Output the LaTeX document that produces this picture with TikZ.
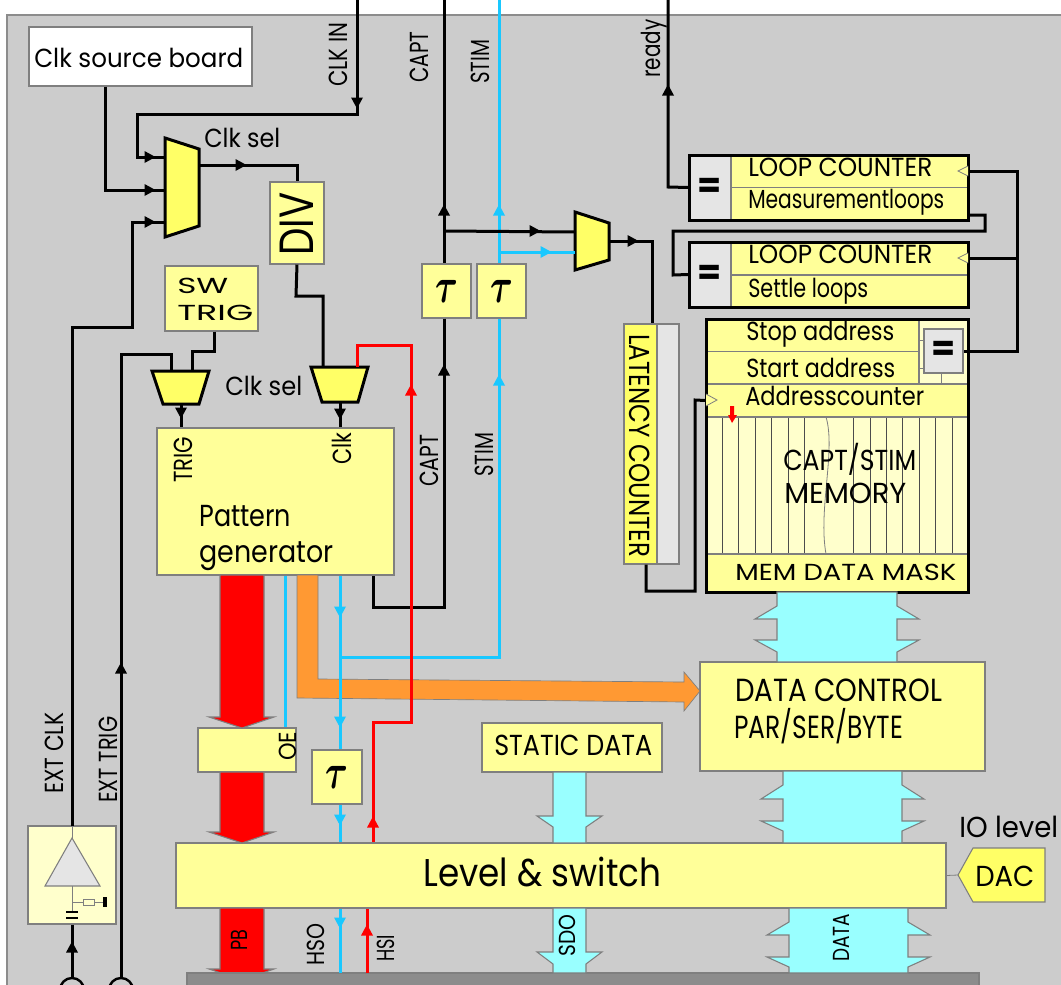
\documentclass[tikz,border=0pt]{standalone}
\usepackage{graphicx}
\usepackage{fontspec}
\setmainfont{Poppins}
\definecolor{panelgray}{HTML}{CCCCCC}
\definecolor{edgegray}{HTML}{7F7F7F}
\definecolor{blockgray}{HTML}{8C8C8C}
\definecolor{keygray}{HTML}{E5E5E5}
\definecolor{lightyel}{HTML}{FFFF99}
\definecolor{midyel}{HTML}{FFFF66}
\definecolor{paleyel}{HTML}{FFFFCC}
\definecolor{sigcyan}{HTML}{19C8FF}
\definecolor{buscyan}{HTML}{99FFFF}
\definecolor{sigorange}{HTML}{FF9933}
\newcommand{\tx}[3]{\fontsize{#1}{#1}\selectfont\resizebox{0.75\dimexpr#2pt\relax}{\height}{#3}}
\newcommand{\tip}[4]{\fill[#4,shift={(#1,#2)},rotate=#3] (5.5,0) -- (-5.5,6) -- (-5.5,-6) -- cycle;}
\newcommand{\tausym}{\scalebox{1.05}[1.5]{$\tau$}}
\tikzset{
    sz/.style 2 args={minimum width=0.75*#1 pt,minimum height=0.75*#2 pt},
    box/.style={draw=edgegray,fill=lightyel,line width=0.8pt,inner sep=0pt},
    frame/.style={draw=black,line width=2.25pt,inner sep=0pt},
    lbl/.style={inner sep=0pt,anchor=base west},
    up/.style={lbl,rotate=90},
    mux/.style={draw=black,fill=midyel,line width=2.25pt,line join=miter},
    sig/.style={line width=2.25pt,black},
    cyansig/.style={line width=2.25pt,sigcyan},
    redsig/.style={line width=2.25pt,red},
    bus/.style={draw=edgegray,fill=buscyan,line width=0.8pt},
    pwr/.style={draw=edgegray,fill=red,line width=0.8pt},
    clktri/.style={draw=edgegray,fill=lightyel,line width=0.6pt},
    taubox/.style={box,font=\fontsize{44}{44}\selectfont\boldmath},
}
\begin{document}
\begin{tikzpicture}[x=0.75pt,y=-0.75pt]
    \clip (0,0) rectangle (1061,985);
    % Panel
    \draw[draw=gray!90,fill=panelgray,line width=1.2pt] (7,15) rectangle (1080,1000);

    % Clock and trigger selection
    \node (clksrc) [box,fill=white,sz={223}{59}] at (140.5,56.5) {};
    \node (divbox) [box,sz={54}{82}] at (297,223) {};
    \node (swtrig) [box,sz={93}{65}] at (211.5,298.5) {};
    \draw[mux] (165,138) -- (199,149) -- (199,226) -- (165,237) -- cycle;
    \draw[mux] (152,371) -- (209,371) -- (199,404) -- (163,404) -- cycle;
    \draw[mux] (311,367) -- (368,367) -- (358,402) -- (322,402) -- cycle;
    \coordinate (muxclka) at (165,157);
    \coordinate (muxclkb) at (165,190);
    \coordinate (muxclkc) at (165,222);
    \coordinate (muxclko) at (199,165);
    \coordinate (muxtriga) at (171,371);
    \coordinate (muxtrigb) at (192,371);
    \coordinate (muxtrigo) at (181,404);
    \coordinate (muxpata) at (323,367);
    \coordinate (muxpatb) at (357,367);
    \coordinate (muxpato) at (340,402);

    % Pattern generator and its outputs
    \node (patgen) [box,sz={237}{147}] at (275.5,501.5) {};
    \node (oebox) [box,sz={98}{44}] at (247,750) {};
    \node (taulow) [taubox,sz={50}{54}] at (337,777) {\tausym};
    \node (level) [box,sz={770}{65}] at (561,875.5) {};
    \node (staticbox) [box,sz={180}{49}] at (572,747.5) {};
    \node (dctrl) [box,sz={285}{109}] at (842.5,716.5) {};

    % Delay elements
    \node (taucapt) [taubox,sz={49}{54}] at (446.5,291) {\tausym};
    \node (taustim) [taubox,sz={49}{54}] at (501.5,291) {\tausym};
    \draw[mux] (575,212) -- (609,223) -- (609,260) -- (575,270) -- cycle;
    \coordinate (muxouta) at (575,232);
    \coordinate (muxoutb) at (575,252);
    \coordinate (muxouto) at (609,241);

    % Loop counters
    \node (cntaeq) [box,fill=keygray,sz={42}{65},font=\fontsize{26}{26}\selectfont\bfseries] at (710,187.5) {=};
    \node (cntahi) [box,sz={237}{33}] at (849.5,171) {};
    \node (cntalo) [box,sz={237}{33}] at (849.5,204) {};
    \node (cntaframe) [frame,sz={279}{65}] at (828.5,187.5) {};
    \node (cntbeq) [box,fill=keygray,sz={42}{65},font=\fontsize{26}{26}\selectfont\bfseries] at (710,274.5) {=};
    \node (cntbhi) [box,sz={237}{33}] at (849.5,258.5) {};
    \node (cntblo) [box,sz={237}{32}] at (849.5,291) {};
    \node (cntbframe) [frame,sz={279}{65}] at (828.5,274.5) {};
    \draw[clktri] (968,166) -- (958,171) -- (968,176);
    \draw[clktri] (968,253) -- (958,258) -- (968,263);

    % Memory
    \node (memcells) [box,fill=paleyel,sz={262}{137}] at (837,485.5) {};
    \foreach \n in {0,...,14} {
        \ifnum\n=6 \else\ifnum\n=7 \else
        \draw[line width=0.7pt,black!70] ({722.5+16.4*\n},417) -- ({722.5+16.4*\n},554);
        \fi\fi
    }
    \draw[line width=0.6pt,edgegray] (826,417) .. controls (836,450) and (818,510) .. (826,554);
    \node (stopaddr) [box,sz={213}{33}] at (812.5,335.5) {};
    \node (startaddr) [box,sz={213}{33}] at (812.5,368) {};
    \node (eqcell) [box,fill=paleyel,sz={49}{65}] at (943.5,351.5) {};
    \node (addrcnt) [box,sz={262}{33}] at (837,400.5) {};
    \node (memmask) [box,sz={262}{38}] at (837,573) {};
    \draw[line width=0.6pt,edgegray] (919,340) -- (924,340) (919,368) -- (924,368) (941,373) -- (941,384);
    \node (memeq) [box,fill=keygray,sz={39}{44},font=\fontsize{26}{26}\selectfont\bfseries] at (943.5,351) {=};
    \node (memframe) [frame,sz={262}{273}] at (837,455.5) {};
    \draw[clktri] (706,394) -- (717,400) -- (706,406);
    \fill[red] (730,406) -- (734,406) -- (734,415) -- (737,415) -- (732,423) -- (728,415) -- (730,415) -- cycle;

    % Latency counter
    \node (latgray) [box,fill=keygray,sz={22}{240}] at (668,444) {};
    \node (latency) [box,fill=midyel,sz={33}{240}] at (640.5,444) {};

    % Input buffer
    \node (ampbox) [box,fill=paleyel,sz={88}{98}] at (72,875) {};
    \draw[box,fill=keygray] (72,838) -- (100,886) -- (45,886) -- cycle;
    \draw[line width=0.6pt,edgegray] (72,826) -- (72,838) (72,886) -- (72,912) (72,902) -- (83,902) (94,902) -- (105,902);
    \draw[line width=0.6pt,edgegray,fill=paleyel] (83,899) rectangle (94,905);
    \draw[line width=2pt] (66,912) -- (78,912) (66,918) -- (78,918);
    \draw[line width=2.6pt] (105,897) -- (105,907);
    \coordinate (clkpad) at (72,978);
    \coordinate (trigpad) at (121,978);
    \draw[line width=1.8pt,black] (72,990) circle (12);
    \draw[line width=1.8pt,black] (121,990) circle (12);

    % Orange control bus
    \draw[draw=edgegray,fill=sigorange,line width=0.5pt] (297,575) -- (318,575) -- (318,679) -- (684,682) -- (684,672) -- (700,691) -- (684,711) -- (684,702) -- (297,698) -- cycle;

    % Red output bus
    \draw[pwr] (220,575) -- (264,575) -- (264,717) -- (274,717) -- (242,728) -- (209,717) -- (220,717) -- cycle;
    \draw[pwr] (220,772) -- (264,772) -- (264,832) -- (274,832) -- (242,843) -- (209,832) -- (220,832) -- cycle;
    \draw[pwr] (220,908) -- (264,908) -- (264,969) -- (274,969) -- (242,980) -- (209,969) -- (220,969) -- cycle;
    \draw[draw=edgegray,fill=blockgray,line width=0.8pt] (187,973) rectangle (979,990);

    % Cyan data buses
    \draw[bus] (777,592) -- (777,606) -- (755,619) -- (777,619) -- (777,640) -- (755,640) -- (777,652) -- (777,662)
        -- (897,662) -- (897,652) -- (919,640) -- (897,640) -- (897,619) -- (919,619) -- (897,606) -- (897,592) -- cycle;
    \draw[bus] (783,771) -- (783,785) -- (761,799) -- (783,799) -- (783,821) -- (761,821) -- (783,831) -- (783,843)
        -- (902,843) -- (902,831) -- (924,821) -- (902,821) -- (902,799) -- (924,799) -- (902,785) -- (902,771) -- cycle;
    \draw[bus] (789,908) -- (789,922) -- (767,935) -- (789,935) -- (789,957) -- (767,957) -- (789,967) -- (789,973)
        -- (908,973) -- (908,967) -- (930,957) -- (908,957) -- (908,935) -- (930,935) -- (908,922) -- (908,908) -- cycle;
    \draw[bus] (553,772) -- (553,816) -- (537,816) -- (553,827) -- (553,843) -- (586,843) -- (586,827) -- (602,816) -- (586,816) -- (586,772) -- cycle;
    \draw[bus] (553,908) -- (553,952) -- (537,952) -- (553,964) -- (553,973) -- (586,973) -- (586,964) -- (602,952) -- (586,952) -- (586,908) -- cycle;

    % Clock wiring
    \coordinate (clkintop) at (357,0);
    \coordinate (captop) at (444,0);
    \coordinate (stimtop) at (499,0);
    \coordinate (readytop) at (668,0);
    \draw[sig] (clkintop) -- (357,114) -- (137,114) -- (137,157) -- (muxclka);
    \draw[sig] (clksrc.south -| 105,0) |- (muxclkb);
    \draw[sig] (muxclko) -| (divbox.north);
    \draw[sig] (divbox.south) -- (296,296) -- (323,296) -- (muxpata);
    \draw[sig] (72,826) -- (72,327) -- (132,327) -- (132,222) -- (muxclkc);
    \draw[sig] (ampbox.south) -- (clkpad);
    \draw[sig] (trigpad) -- (121,354) -- (171,354) -- (muxtriga);
    \draw[sig] (swtrig.south -| 214,0) -- (214,351) -- (192,351) -- (muxtrigb);
    \draw[sig] (muxtrigo) -- (patgen.north -| 181,0);
    \draw[sig] (muxpato) -- (patgen.north -| 340,0);
    \tip{150}{157}{0}{black}
    \tip{150}{190}{0}{black}
    \tip{150}{222}{0}{black}
    \tip{241}{165}{0}{black}
    \tip{357}{103}{-90}{black}
    \tip{181}{413}{-90}{black}
    \tip{340}{414}{-90}{black}
    \tip{72}{947}{90}{black}
    \tip{121}{668}{90}{black}

    % Capture and stimulus wiring
    \draw[cyansig] (stimtop) -- (taustim.north -| 499,0);
    \draw[cyansig] (taustim.south -| 499,0) -- (499,657) -- (341,657);
    \draw[cyansig] (499,252) -- (muxoutb);
    \draw[sig] (captop) -- (taucapt.north -| 444,0);
    \draw[sig] (taucapt.south -| 444,0) -- (444,607) -- (373,607) -- (patgen.south -| 373,0);
    \draw[sig] (444,231) -- (muxouta);
    \draw[sig] (muxouto) -| (latency.north -| 652,0);
    \draw[sig] (latency.south -| 646,0) -- (646,591) -- (695,591) -- (695,400) -- (addrcnt.west);
    \tip{444}{210}{90}{black}
    \tip{444}{370}{90}{black}
    \tip{535}{231}{0}{black}
    \tip{633}{241}{0}{black}
    \tip{499}{210}{90}{sigcyan}
    \tip{499}{380}{90}{sigcyan}
    \tip{546}{252}{0}{sigcyan}

    % Pattern outputs
    \draw[cyansig] (patgen.south -| 285,0) -- (oebox.north -| 285,0);
    \draw[cyansig] (patgen.south -| 340,0) -- (taulow.north -| 340,0);
    \draw[cyansig] (taulow.south -| 340,0) -- (level.north -| 340,0);
    \draw[cyansig] (level.south -| 340,0) -- (340,973);
    \draw[redsig] (muxpatb) -- (357,345) -- (411,345) -- (411,722) -- (373,722) -- (level.north -| 373,0);
    \draw[redsig] (367,973) -- (level.south -| 367,0);
    \tip{411}{390}{90}{red}
    \tip{373}{822}{90}{red}
    \tip{367}{930}{90}{red}
    \tip{340}{612}{-90}{sigcyan}
    \tip{340}{722}{-90}{sigcyan}
    \tip{340}{820}{-90}{sigcyan}
    \tip{340}{923}{-90}{sigcyan}

    % Loop counter wiring
    \draw[sig] (readytop) -- (668,187) -- (cntaeq.west);
    \tip{668}{90}{90}{black}
    \draw[sig] (cntaframe.east |- 0,215) -- (985,215) -- (985,231) -- (673,231) -- (673,275) -- (cntbeq.west);
    \draw[sig] (cntaframe.east |- 0,171) -- (1017,171) -- (1017,351) -- (memeq.east);
    \draw[sig] (cntbframe.east |- 0,258) -- (1017,258);

    % DAC
    \draw[box,fill=midyel] (958,875) -- (973,848) -- (1045,848) -- (1045,902) -- (973,902) -- cycle;
    \coordinate (dactip) at (958,875);
    \draw[line width=0.6pt,edgegray] (level.east) -- (dactip);

    % Labels
    \node (tclk) [lbl] at (34,67) {\tx{19.6}{209}{Clk source board}};
    \node (tsela) [lbl] at (204,147) {\tx{19.6}{76}{Clk sel}};
    \node (tselb) [lbl] at (225,395) {\tx{19.6}{77}{Clk sel}};
    \node (tsw) [lbl] at (177,293) {\tx{16.3}{51}{SW}};
    \node (ttrg) [lbl] at (177,320) {\tx{16.3}{76}{TRIG}};
    \node (tdiv) [up] at (313,256) {\tx{36}{63}{DIV}};
    \node (tclkin) [up] at (347,87) {\tx{19.6}{64}{CLK IN}};
    \node (tcapa) [up] at (428,83) {\tx{19.6}{51}{CAPT}};
    \node (tstima) [up] at (489,84) {\tx{19.6}{44}{STIM}};
    \node (tready) [up] at (660,78) {\tx{19.6}{58}{ready}};
    \node (tcapb) [up] at (438,487) {\tx{19.6}{52}{CAPT}};
    \node (tstimb) [up] at (493,477) {\tx{19.6}{44}{STIM}};
    \node (ttrgb) [up] at (192,483) {\tx{19.6}{46}{TRIG}};
    \node (tclkb) [up] at (351,465) {\tx{19.6}{32}{Clk}};
    \node (tpata) [lbl] at (199,526) {\tx{22.8}{92}{Pattern}};
    \node (tpatb) [lbl] at (199,562) {\tx{22.8}{134}{generator}};
    \node (toe) [up] at (296,761) {\tx{18.5}{29}{OE}};
    \node (textclk) [up] at (63,794) {\tx{19.6}{81}{EXT CLK}};
    \node (texttrg) [up] at (117,803) {\tx{19.6}{86}{EXT TRIG}};
    \node (tpb) [up] at (247,951) {\tx{17.4}{21}{PB}};
    \node (thso) [up] at (324,966) {\tx{18.5}{42}{HSO}};
    \node (thsi) [up] at (394,962) {\tx{18.5}{27}{HSI}};
    \node (tsdo) [up] at (575,957) {\tx{17.4}{42}{SDO}};
    \node (tdata) [up] at (849,962) {\tx{17.4}{48}{DATA}};
    \node (tlevel) [lbl] at (423,886) {\tx{29}{238}{Level \& switch}};
    \node (tstatic) [lbl] at (494,755) {\tx{21.7}{158}{STATIC DATA}};
    \node (tdca) [lbl] at (735,701) {\tx{24}{207}{DATA CONTROL}};
    \node (tdcb) [lbl] at (734,738) {\tx{24}{169}{PAR/SER/BYTE}};
    \node (tio) [lbl] at (959,837) {\tx{21.7}{99}{IO level}};
    \node (tdac) [lbl] at (975,886) {\tx{21.7}{59}{DAC}};
    \node (tcnta) [lbl] at (748,176) {\tx{19.6}{184}{LOOP COUNTER}};
    \node (tmeas) [lbl] at (748,208) {\tx{19.6}{196}{Measurementloops}};
    \node (tcntb) [lbl] at (748,263) {\tx{19.6}{184}{LOOP COUNTER}};
    \node (tsettle) [lbl] at (748,297) {\tx{19.6}{120}{Settle loops}};
    \node (tstop) [lbl] at (746,340) {\tx{19.6}{148}{Stop address}};
    \node (tstart) [lbl] at (746,377) {\tx{19.6}{149}{Start address}};
    \node (taddr) [lbl] at (745,405) {\tx{19.6}{179}{Addresscounter}};
    \node (tmema) [lbl] at (783,470) {\tx{21.7}{133}{CAPT/STIM}};
    \node (tmemb) [lbl] at (784,503) {\tx{21.7}{122}{MEMORY}};
    \node (tmask) [lbl] at (735,580) {\tx{17.4}{221}{MEM DATA MASK}};
    \node (tlat) [lbl,rotate=-90] at (629,334) {\tx{21.7}{223}{LATENCY COUNTER}};
\end{tikzpicture}
\end{document}
